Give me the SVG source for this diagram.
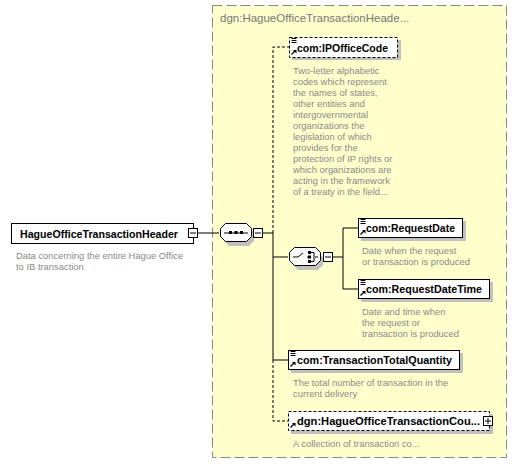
<svg xmlns="http://www.w3.org/2000/svg" width="518" height="466" viewBox="0 0 518 466">
<defs>
<style>
.name{font-family:"Liberation Sans",Arial,sans-serif;font-size:11.5px;font-weight:bold;fill:#000}
.desc{font-family:"Liberation Sans",Arial,sans-serif;font-size:9.4px;fill:#8a8a8a}
.title{font-family:"Liberation Sans",Arial,sans-serif;font-size:11.5px;fill:#777}
.box{fill:#fff;stroke:#000;stroke-width:1}
.dbox{fill:#fff;stroke:#000;stroke-width:1;stroke-dasharray:3,2}
.shadow{fill:#c0c0c0}
.ln{stroke:#000;stroke-width:1;fill:none}
.dl{stroke:#000;stroke-width:1;fill:none;stroke-dasharray:3,2}
.pm{fill:#fff;stroke:#000;stroke-width:1}
</style>
<g id="ico">
<path d="M1.5 1.5h5M1.5 3.5h5M1.5 5.5h5" stroke="#000" stroke-width="1"/>
</g>
<g id="arr">
<path d="M1.5 17.5l4-4" stroke="#000" stroke-width="1.3"/>
<path d="M3 13h3.5v3.5z" fill="#000"/>
</g>
</defs>
<rect width="518" height="466" fill="#fff"/>
<g id="complexType">
<rect x="212.5" y="5.5" width="294" height="452" fill="#ffffcc" stroke="#888" stroke-dasharray="10,4"/>
<text class="title" x="220" y="22">dgn:HagueOfficeTransactionHeade...</text>
</g>
<g id="connectors">
<path class="ln" d="M198 233H219"/>
<path class="ln" d="M263 233H273M273 233V360H288M273 257H288M333 257H343M343 228V289M343 228H358M343 289H358"/>
<path class="dl" d="M273 233V47H289M273 360V421H288"/>
</g>
<g id="root">
<rect class="box" x="11.5" y="223.5" width="182" height="20"/>
<text class="name" x="20" y="238" textLength="158" lengthAdjust="spacingAndGlyphs">HagueOfficeTransactionHeader</text>
<rect class="pm" x="188.5" y="228.5" width="9" height="9"/>
<path class="ln" d="M190 233h6"/>
<text class="desc" x="16" y="259">Data concerning the entire Hague Office</text>
<text class="desc" x="16" y="270">to IB transaction</text>
</g>
<g id="sequence">
<path class="shadow" d="M229 228h20l5 5v8l-5 5h-20l-5-5v-8z"/>
<path d="M225.5 223.5h21l5 5v8l-5 5h-21l-5-5v-8z" fill="#fff" stroke="#000"/>
<path class="ln" d="M224 233h24"/>
<rect x="229" y="231" width="3" height="3" fill="#000"/>
<rect x="234.5" y="231" width="3" height="3" fill="#000"/>
<rect x="240" y="231" width="3" height="3" fill="#000"/>
<rect class="pm" x="253.5" y="228.5" width="9" height="9"/>
<path class="ln" d="M255 233h6"/>
</g>
<g id="choice">
<path class="shadow" d="M298 252h20l5 5v8l-5 5h-20l-5-5v-8z"/>
<path d="M294.5 247.5h21l5 5v8l-5 5h-21l-5-5v-8z" fill="#fff" stroke="#000"/>
<path class="ln" d="M293 257h5l5-4M307 257h2M315 257h3"/>
<rect x="308" y="251" width="3" height="3" fill="#000"/>
<rect x="308" y="255.5" width="3" height="3" fill="#000"/>
<rect x="308" y="260" width="3" height="3" fill="#000"/>
<path class="ln" d="M311 252.5h3v9h-3"/>
<rect class="pm" x="323.5" y="252.5" width="9" height="9"/>
<path class="ln" d="M325 257h6"/>
</g>
<g id="IPOfficeCode">
<rect class="shadow" x="292" y="40" width="109" height="20"/>
<rect class="dbox" x="289.5" y="37.5" width="108" height="20"/>
<use href="#ico" x="290" y="37"/>
<use href="#arr" x="290" y="37"/>
<text class="name" x="297" y="52" textLength="91" lengthAdjust="spacingAndGlyphs">com:IPOfficeCode</text>
<text class="desc" x="293" y="74">Two-letter alphabetic</text>
<text class="desc" x="293" y="85">codes which represent</text>
<text class="desc" x="293" y="96">the names of states,</text>
<text class="desc" x="293" y="107">other entities and</text>
<text class="desc" x="293" y="118">intergovernmental</text>
<text class="desc" x="293" y="129">organizations the</text>
<text class="desc" x="293" y="140">legislation of which</text>
<text class="desc" x="293" y="151">provides for the</text>
<text class="desc" x="293" y="162">protection of IP rights or</text>
<text class="desc" x="293" y="173">which organizations are</text>
<text class="desc" x="293" y="184">acting in the framework</text>
<text class="desc" x="293" y="195">of a treaty in the field...</text>
</g>
<g id="RequestDate">
<rect class="shadow" x="361" y="221" width="105" height="20"/>
<rect class="box" x="358.5" y="218.5" width="104" height="19"/>
<use href="#ico" x="359" y="218"/>
<use href="#arr" x="359" y="217"/>
<text class="name" x="366" y="232" textLength="89" lengthAdjust="spacingAndGlyphs">com:RequestDate</text>
<text class="desc" x="362" y="254">Date when the request</text>
<text class="desc" x="362" y="265">or transaction is produced</text>
</g>
<g id="RequestDateTime">
<rect class="shadow" x="361" y="282" width="132" height="20"/>
<rect class="box" x="358.5" y="279.5" width="131" height="19"/>
<use href="#ico" x="359" y="279"/>
<use href="#arr" x="359" y="278"/>
<text class="name" x="366" y="293" textLength="116" lengthAdjust="spacingAndGlyphs">com:RequestDateTime</text>
<text class="desc" x="362" y="315">Date and time when</text>
<text class="desc" x="362" y="326">the request or</text>
<text class="desc" x="362" y="337">transaction is produced</text>
</g>
<g id="TransactionTotalQuantity">
<rect class="shadow" x="291" y="353" width="172" height="20"/>
<rect class="box" x="288.5" y="350.5" width="171" height="19"/>
<use href="#ico" x="289" y="350"/>
<use href="#arr" x="289" y="349"/>
<text class="name" x="297" y="364" textLength="155" lengthAdjust="spacingAndGlyphs">com:TransactionTotalQuantity</text>
<text class="desc" x="293" y="386">The total number of transaction in the</text>
<text class="desc" x="293" y="397">current delivery</text>
</g>
<g id="HagueOfficeTransactionCount">
<rect class="shadow" x="291" y="414" width="202" height="20"/>
<rect class="dbox" x="288.5" y="411.5" width="201" height="19"/>
<use href="#arr" x="289" y="410"/>
<text class="name" x="297" y="425" textLength="183" lengthAdjust="spacingAndGlyphs">dgn:HagueOfficeTransactionCou...</text>
<rect class="pm" x="483.5" y="416.5" width="9" height="9"/>
<path class="ln" d="M485 421h6M488 418v6"/>
<text class="desc" x="293" y="447">A collection of transaction co...</text>
</g>
</svg>
